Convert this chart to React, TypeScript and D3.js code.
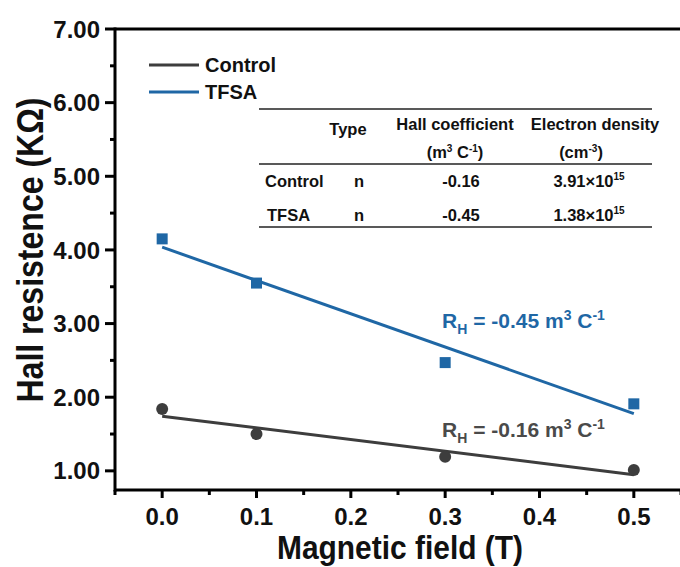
import React from "react";
import * as d3 from "d3";

// Hall measurement: resistance vs magnetic field
const fieldT = [0, 0.1, 0.3, 0.5];
const controlR = [1.84, 1.5, 1.19, 1.01];
const tfsaR = [4.15, 3.55, 2.47, 1.91];

const seriesNames = ["Control", "TFSA"];
const seriesColors = ["#3d3d3d", "#1f67a5"];

const xTickValues = [0, 0.1, 0.2, 0.3, 0.4, 0.5];
const xMinorValues = [-0.05, 0.05, 0.15, 0.25, 0.35, 0.45, 0.55];
const yTickValues = [1, 2, 3, 4, 5, 6, 7];
const yMinorValues = [1.5, 2.5, 3.5, 4.5, 5.5, 6.5];

// inset table
const tableSamples = ["Control", "TFSA"];
const tableType = ["n", "n"];
const tableHall = ["-0.16", "-0.45"];
const tableDensityMantissa = ["3.91", "1.38"];
const tableDensityExp = ["15", "15"];

const W = 680;
const H = 567;
const FONT = "'Liberation Sans', Arial, Helvetica, sans-serif";

function linFit(xs: number[], ys: number[]) {
  const mx = d3.mean(xs) as number;
  const my = d3.mean(ys) as number;
  let sxy = 0;
  let sxx = 0;
  xs.forEach((x, i) => {
    sxy += (x - mx) * (ys[i] - my);
    sxx += (x - mx) * (x - mx);
  });
  const slope = sxy / sxx;
  return { slope, intercept: my - slope * mx };
}

export default function App() {
  const x = d3.scaleLinear().domain([-0.05, 0.55]).range([115, 681]);
  const y = d3.scaleLinear().domain([0.74, 7]).range([490, 29]);

  const left = x(-0.05);
  const right = x(0.55);
  const top = y(7);
  const bottom = y(0.74);

  const line = d3
    .line<[number, number]>()
    .x((d) => x(d[0]))
    .y((d) => y(d[1]));

  const fits = [controlR, tfsaR].map((ys) => {
    const f = linFit(fieldT, ys);
    const x0 = fieldT[0];
    const x1 = fieldT[fieldT.length - 1];
    return [
      [x0, f.intercept + f.slope * x0],
      [x1, f.intercept + f.slope * x1],
    ] as [number, number][];
  });

  const tableFs = 16.5;
  const colType = 348;
  const colHall = 455;
  const colDens = 595;

  return (
    <svg
      width={W}
      height={H}
      style={{ position: "absolute", left: 0, top: 0, background: "#fff" }}
      fontFamily={FONT}
      fontWeight="bold"
    >
      <rect width={W} height={H} fill="#fff" />

      {/* fitted lines */}
      {fits.map((pts, i) => (
        <path
          key={"fit" + i}
          d={line(pts) as string}
          fill="none"
          stroke={seriesColors[i]}
          strokeWidth={3}
        />
      ))}

      {/* measured points */}
      {controlR.map((v, i) => (
        <circle key={"c" + i} cx={x(fieldT[i])} cy={y(v)} r={6} fill={seriesColors[0]} />
      ))}
      {tfsaR.map((v, i) => (
        <rect
          key={"t" + i}
          x={x(fieldT[i]) - 5.5}
          y={y(v) - 5.5}
          width={11}
          height={11}
          fill={seriesColors[1]}
        />
      ))}

      {/* axes frame */}
      <line x1={left} x2={left} y1={top - 1.5} y2={bottom + 1.5} stroke="#000" strokeWidth={3} />
      <line x1={left} x2={right} y1={bottom} y2={bottom} stroke="#000" strokeWidth={3} />
      <line x1={left} x2={right} y1={top} y2={top} stroke="#000" strokeWidth={3} />

      {/* y ticks */}
      {yTickValues.map((v) => (
        <g key={"yt" + v}>
          <line x1={left - 10} x2={left} y1={y(v)} y2={y(v)} stroke="#000" strokeWidth={3} />
          <text x={100} y={y(v)} dy="0.36em" textAnchor="end" fontSize={24} fill="#111">
            {v.toFixed(2)}
          </text>
        </g>
      ))}
      {yMinorValues.map((v) => (
        <line key={"ym" + v} x1={left - 5} x2={left} y1={y(v)} y2={y(v)} stroke="#000" strokeWidth={3} />
      ))}

      {/* x ticks */}
      {xTickValues.map((v) => (
        <g key={"xt" + v}>
          <line x1={x(v)} x2={x(v)} y1={bottom} y2={bottom + 8} stroke="#000" strokeWidth={3} />
          <text x={x(v)} y={525} textAnchor="middle" fontSize={24} fill="#111">
            {v.toFixed(1)}
          </text>
        </g>
      ))}
      {xMinorValues.map((v) => (
        <line key={"xm" + v} x1={x(v)} x2={x(v)} y1={bottom} y2={bottom + 5} stroke="#000" strokeWidth={3} />
      ))}

      {/* axis titles */}
      <text
        x={400}
        y={559}
        textAnchor="middle"
        fontSize={33}
        textLength={246}
        lengthAdjust="spacingAndGlyphs"
        fill="#111"
      >
        Magnetic field (T)
      </text>
      <text
        transform="translate(43,250) rotate(-90)"
        textAnchor="middle"
        fontSize={36}
        textLength={305}
        lengthAdjust="spacingAndGlyphs"
        fill="#111"
      >
        Hall resistence (KΩ)
      </text>

      {/* legend */}
      {seriesNames.map((n, i) => (
        <g key={"lg" + n}>
          <line x1={149} x2={199} y1={65 + i * 27} y2={65 + i * 27} stroke={seriesColors[i]} strokeWidth={3} />
          <text x={205} y={65 + i * 27} dy="0.36em" fontSize={20} fill="#111">
            {n}
          </text>
        </g>
      ))}

      {/* inset table */}
      <g fontSize={tableFs} fill="#111">
        <line x1={259} x2={652} y1={109} y2={109} stroke="#222" strokeWidth={1.5} />
        <line x1={259} x2={652} y1={164} y2={164} stroke="#222" strokeWidth={1.5} />
        <line x1={259} x2={652} y1={227} y2={227} stroke="#222" strokeWidth={1.5} />
        <text x={colType} y={135} textAnchor="middle">Type</text>
        <text x={colHall} y={130} textAnchor="middle">Hall coefficient</text>
        <text x={colDens} y={130} textAnchor="middle">Electron density</text>
        <text x={colHall} y={158} textAnchor="middle">
          (m<tspan dy={-6} fontSize={10}>3</tspan>
          <tspan dy={6}> C</tspan>
          <tspan dy={-6} fontSize={10}>-1</tspan>
          <tspan dy={6}>)</tspan>
        </text>
        <text x={581} y={158} textAnchor="middle">
          (cm<tspan dy={-6} fontSize={10}>-3</tspan>
          <tspan dy={6}>)</tspan>
        </text>
        {tableSamples.map((s, i) => {
          const by = 187 + i * 34;
          return (
            <g key={"row" + s}>
              <text x={265 + i * 2} y={by}>{s}</text>
              <text x={359} y={by} textAnchor="middle">{tableType[i]}</text>
              <text x={461} y={by} textAnchor="middle">{tableHall[i]}</text>
              <text x={589} y={by} textAnchor="middle">
                {tableDensityMantissa[i]}×10
                <tspan dy={-7} fontSize={10}>{tableDensityExp[i]}</tspan>
              </text>
            </g>
          );
        })}
      </g>

      {/* slope annotations */}
      <text x={442} y={328} fontSize={21} fill={seriesColors[1]}>
        R<tspan dy={6} fontSize={14}>H</tspan>
        <tspan dy={-6}> = {tableHall[1]} m</tspan>
        <tspan dy={-8} fontSize={14}>3</tspan>
        <tspan dy={8}> C</tspan>
        <tspan dy={-8} fontSize={14}>-1</tspan>
      </text>
      <text x={442} y={437} fontSize={21} fill="#4a4a4a">
        R<tspan dy={6} fontSize={14}>H</tspan>
        <tspan dy={-6}> = {tableHall[0]} m</tspan>
        <tspan dy={-8} fontSize={14}>3</tspan>
        <tspan dy={8}> C</tspan>
        <tspan dy={-8} fontSize={14}>-1</tspan>
      </text>
    </svg>
  );
}
